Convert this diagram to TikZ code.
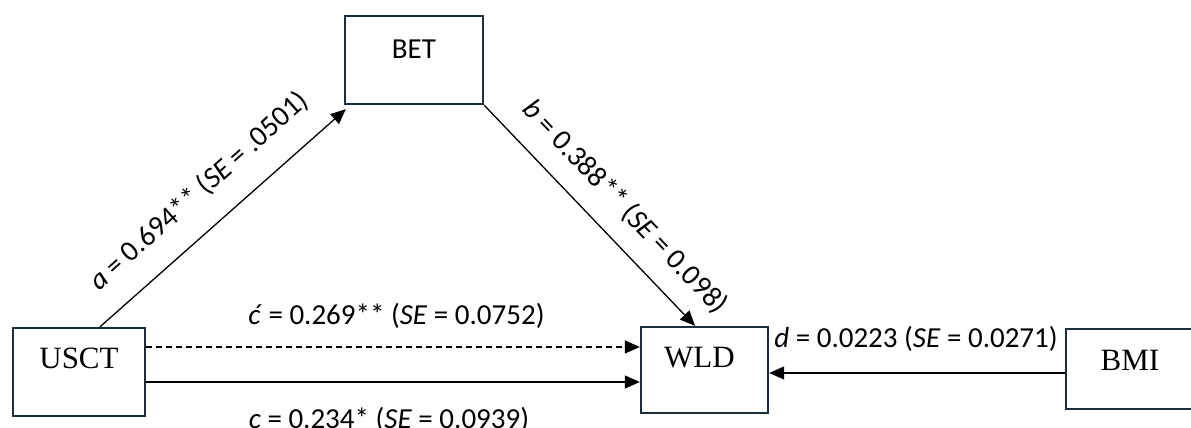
\documentclass[tikz,border=0pt]{standalone}
\usepackage{fontspec}
\newfontfamily\calib{Carlito}
\newfontfamily\tnr{Liberation Serif}
\usetikzlibrary{arrows.meta}
\definecolor{boxc}{HTML}{1B2E3C}
\begin{document}
\begin{tikzpicture}[x=1pt,y=1pt,
  box/.style={draw=boxc, line width=2.4pt, fill=white, inner sep=0pt},
  conn/.style={line width=1.3pt, -{Triangle[length=15pt,width=13pt]}},
  lbl/.style={font=\calib\fontsize{29}{34}\selectfont, inner sep=0pt},
  serifbox/.style={font=\tnr\fontsize{31}{36}\selectfont},
  sansbox/.style={font=\calib\fontsize{29}{34}\selectfont}
  ]
\useasboundingbox (0,0) rectangle (1191,428);
\clip (0,0) rectangle (1191,428);
\node[box, minimum width=132pt, minimum height=88pt,
  label={[serifbox, yshift=14pt]center:USCT}] (USCT) at (79,56) {};
\node[box, minimum width=138pt, minimum height=88pt,
  label={[sansbox, yshift=11pt]center:BET}] (BET) at (414,368) {};
\node[box, minimum width=127pt, minimum height=86pt,
  label={[serifbox, xshift=-5pt, yshift=12pt]center:WLD}] (WLD) at (704.5,58) {};
\node[box, minimum width=134pt, minimum height=80pt,
  label={[serifbox, xshift=-3pt, yshift=9pt]center:BMI}] (BMI) at (1133,59) {};

\draw[conn] ([xshift=21pt]USCT.north) -- ([xshift=2pt,yshift=-4pt]BET.south west);
\draw[conn] (BET.south east) -- ([xshift=-9.5pt]WLD.north);
\draw[conn, dash pattern=on 6pt off 4pt] ([yshift=25pt]USCT.east) -- ([yshift=25pt]USCT.east -| WLD.west);
\draw[conn] ([yshift=-10pt]USCT.east) -- ([yshift=-10pt]USCT.east -| WLD.west);
\draw[conn] ([yshift=-4pt]BMI.west) -- ([yshift=-4pt]BMI.west -| WLD.east);

\node[lbl, anchor=base] (lc1) at (396.5,103) {\textit{ć} = 0.269** (\textit{SE} = 0.0752)};
\node[lbl, anchor=base] (lc) at (389,-0.5) {\textit{c} = 0.234* (\textit{SE} = 0.0939)};
\node[lbl, anchor=base] (ld) at (916,80) {\textit{d} = 0.0223 (\textit{SE} = 0.0271)};
\node[lbl, rotate=41.7] (la) at (199,237) {\textit{a} = 0.694** (\textit{SE} = .0501)};
\node[lbl, rotate=-46.3] (lb) at (625,221) {\textit{b} = 0.388** (\textit{SE} = 0.098)};
\end{tikzpicture}
\end{document}
